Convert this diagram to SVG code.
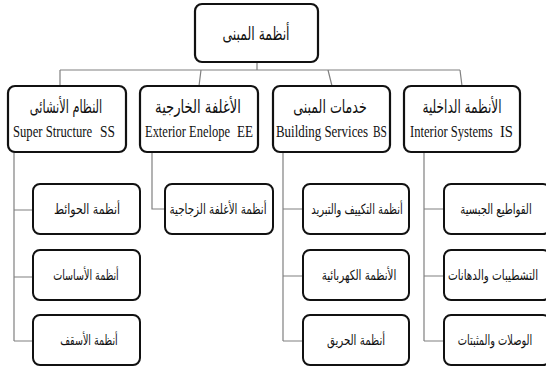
<svg xmlns="http://www.w3.org/2000/svg" width="546" height="369" viewBox="0 0 546 369">
<style>
.box{fill:#fff;stroke:#111;stroke-width:2.2}
.sub{fill:#fff;stroke:#111;stroke-width:2}
.con{fill:none;stroke:#808080;stroke-width:1.2}
.ar{font-family:"DejaVu Sans","Noto Sans",sans-serif;fill:#111;text-anchor:middle}
.en{font-family:"Liberation Serif","Times New Roman",serif;fill:#111;font-size:17px}
.l2{font-size:18px}
.l3{font-size:14px}
</style>
<rect width="546" height="369" fill="#fff"/>
<g id="connectors">
<path class="con" d="M257,62 V70 M60,70 H460 M60,70 V86 M201,70 L199,86 M328,70 L332,86 M460,70 L462,86"/>
<path class="con" d="M14,152 V341 M14,210 H33 M14,277 H33 M14,341 H33"/>
<path class="con" d="M152,152 V209 H165"/>
<path class="con" d="M283,152 V341 M283,209 H303 M283,276 H303 M283,341 H303"/>
<path class="con" d="M424,152 V341 M424,209 H444 M424,276 H444 M424,341 H444"/>
</g>
<g id="root">
<rect class="box" x="195" y="4" width="123" height="58" rx="7"/>
<text class="ar" font-size="18" transform="translate(256,40) scale(0.69,1)">أنظمة المبنى</text>
</g>
<g id="ss">
<rect class="box" x="8" y="86" width="118" height="66" rx="7"/>
<text class="ar l2" transform="translate(66,113) scale(0.63,1)">النظام الأنشائى</text>
<text class="en" transform="translate(13,137) scale(0.745,1)">Super Structure</text>
<text class="en" transform="translate(100,137) scale(0.79,1)">SS</text>
</g>
<g id="ee">
<rect class="box" x="140" y="86" width="118" height="66" rx="7"/>
<text class="ar l2" transform="translate(198,113) scale(0.73,1)">الأغلفة الخارجية</text>
<text class="en" transform="translate(145,137) scale(0.735,1)">Exterior Enelope</text>
<text class="en" transform="translate(237,137) scale(0.77,1)">EE</text>
</g>
<g id="bs">
<rect class="box" x="273" y="86" width="117" height="66" rx="7"/>
<text class="ar l2" transform="translate(330,113) scale(0.7,1)">خدمات المبنى</text>
<text class="en" transform="translate(276,137) scale(0.76,1)">Building Services</text>
<text class="en" transform="translate(373,137) scale(0.67,1)">BS</text>
</g>
<g id="is">
<rect class="box" x="404" y="86" width="116" height="66" rx="7"/>
<text class="ar l2" transform="translate(462,113) scale(0.67,1)">الأنظمة الداخلية</text>
<text class="en" transform="translate(410,137) scale(0.74,1)">Interior Systems</text>
<text class="en" transform="translate(500,137) scale(0.86,1)">IS</text>
</g>
<g id="ss1"><rect class="sub" x="33" y="184" width="107" height="50" rx="7"/>
<text class="ar l3" transform="translate(87,214) scale(0.78,1)">أنظمة الحوائط</text></g>
<g id="ss2"><rect class="sub" x="33" y="250" width="107" height="50" rx="7"/>
<text class="ar l3" transform="translate(86,280) scale(0.68,1)">أنظمة الأساسات</text></g>
<g id="ss3"><rect class="sub" x="33" y="315" width="107" height="50" rx="7"/>
<text class="ar l3" transform="translate(89,345) scale(0.68,1)">أنظمة الأسقف</text></g>
<g id="ee1"><rect class="sub" x="165" y="184" width="108" height="50" rx="7"/>
<text class="ar l3" transform="translate(218,214) scale(0.74,1)">أنظمة الأغلفة الزجاجية</text></g>
<g id="bs1"><rect class="sub" x="303" y="184" width="106" height="50" rx="7"/>
<text class="ar l3" transform="translate(357,214) scale(0.71,1)">أنظمة التكييف والتبريد</text></g>
<g id="bs2"><rect class="sub" x="303" y="250" width="106" height="50" rx="7"/>
<text class="ar l3" transform="translate(359,280) scale(0.74,1)">الأنظمة الكهربائية</text></g>
<g id="bs3"><rect class="sub" x="303" y="315" width="106" height="50" rx="7"/>
<text class="ar l3" transform="translate(356,345) scale(0.73,1)">أنظمة الحريق</text></g>
<g id="is1"><rect class="sub" x="444" y="184" width="106" height="50" rx="7"/>
<text class="ar l3" transform="translate(496,214) scale(0.72,1)">القواطيع الجبسية</text></g>
<g id="is2"><rect class="sub" x="444" y="250" width="106" height="50" rx="7"/>
<text class="ar l3" transform="translate(493,280) scale(0.74,1)">التشطيبات والدهانات</text></g>
<g id="is3"><rect class="sub" x="444" y="315" width="106" height="50" rx="7"/>
<text class="ar l3" transform="translate(495,345) scale(0.7,1)">الوصلات والمثبتات</text></g>
</svg>
